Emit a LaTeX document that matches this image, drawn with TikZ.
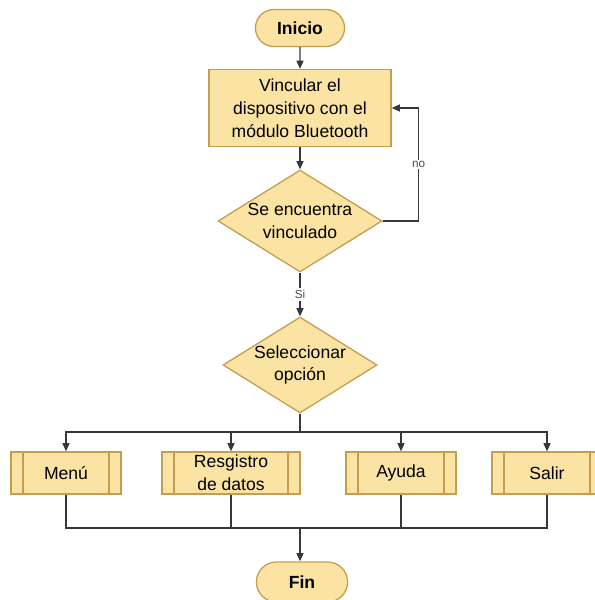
\documentclass[tikz,border=0pt]{standalone}
\usepackage{fontspec}
\setmainfont{Liberation Sans}
\usetikzlibrary{shapes.geometric,shapes.misc,arrows.meta}
\definecolor{boxfill}{RGB}{251,227,164}
\definecolor{boxline}{RGB}{196,158,78}
\definecolor{wire}{RGB}{55,55,55}
\tikzset{
  term/.style={rounded rectangle, draw=boxline, fill=boxfill, line width=1.1pt, minimum width=2.91cm, minimum height=1.11cm, font=\bfseries\fontsize{15}{18}\selectfont},
  proc/.style={rectangle, draw=boxline, fill=boxfill, line width=1.1pt, minimum width=5.46cm, minimum height=2.31cm, align=center},
  decision/.style={diamond, draw=boxline, fill=boxfill, line width=1.1pt, inner sep=0pt},
  subproc/.style={rectangle, draw=boxline, fill=boxfill, line width=1.1pt, minimum width=3.3cm, minimum height=1.26cm, inner sep=0pt, align=center,
    path picture={\draw[boxline, line width=1.1pt]
      ([xshift=0.36cm]path picture bounding box.north west) -- ([xshift=0.36cm]path picture bounding box.south west)
      ([xshift=-0.36cm]path picture bounding box.north east) -- ([xshift=-0.36cm]path picture bounding box.south east);}},
  txt/.style={align=center, inner sep=0pt},
  lbl/.style={fill=white, inner sep=1.5pt, text=black!70, font=\fontsize{10}{12}\selectfont},
  flow/.style={draw=wire, line width=1.1pt},
  arr/.style={flow, -{Triangle[length=7pt,width=6pt]}},
}

\begin{document}
\begin{tikzpicture}[x=0.03cm, y=-0.03cm, font=\fontsize{15}{19.5}\selectfont]
\useasboundingbox (0,0) rectangle (594,600);
% main column
\node[term] (start) at (300,28) {Inicio};
\node[proc] (link) at (300,108) {Vincular el\\dispositivo con el\\módulo Bluetooth};
\node[decision, minimum width=4.92cm, minimum height=3.06cm] (chk) at (300,221) {};
\node[txt] (chktxt) at (chk) {Se encuentra\\vinculado};
\node[decision, minimum width=4.62cm, minimum height=2.88cm] (sel) at (300,365) {};
\node[txt] (seltxt) at (sel) {Seleccionar\\opción};
% options row
\node[subproc] (menu) at (66,473) {Menú};
\node[subproc, minimum width=4.14cm] (reg) at (231,473) {Resgistro\\de datos};
\node[subproc] (help) at (401,473) {Ayuda};
\node[subproc] (quit) at (547,473) {Salir};
\node[term, minimum width=2.97cm, minimum height=1.2cm] (fin) at (302,582) {Fin};
\coordinate (split) at (300,432);
\coordinate (join) at (300,528);
% connectors
\draw[arr] (start) -- (link);
\draw[arr] (link) -- (chk);
\draw[arr] (chk.east) -- ++(36,0) |- node[lbl, pos=0.25] {no} (link.east);
\draw[arr] (chk) -- node[lbl] {Si} (sel);
\draw[flow] (sel) -- (split);
\foreach \opt in {menu,reg,help,quit} {
  \draw[arr] (split) -| (\opt);
  \draw[flow] (\opt) |- (join);
}
\draw[arr] (join) -- (join |- fin.north);
\end{tikzpicture}
\end{document}
